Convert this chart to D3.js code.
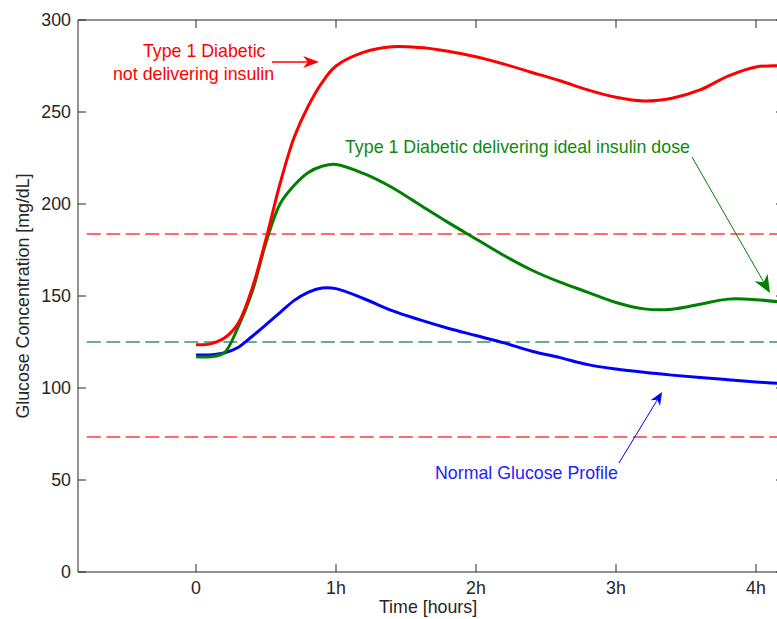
<!DOCTYPE html>
<html>
<head>
<meta charset="utf-8">
<script src="https://cdn.jsdelivr.net/npm/d3@7"></script>
<style>
  html, body { margin: 0; padding: 0; background: #fff; }
  svg { display: block; }
  text { font-family: "Liberation Sans", Arial, sans-serif; }
</style>
</head>
<body>
<div id="chart"></div>
<script>
// ---------------- data ----------------
const timeHours = [0, 0.1, 0.2, 0.3, 0.4, 0.5, 0.6, 0.7, 0.8, 0.9, 1.0, 1.2, 1.4, 1.6, 1.8, 2.0, 2.2, 2.4, 2.6, 2.8, 3.0, 3.2, 3.4, 3.6, 3.8, 4.0, 4.2];
const noInsulin = [123.5, 124, 127, 135, 154, 181, 211, 236, 253, 266, 275, 282.5, 285.5, 285, 283, 280, 276, 271.5, 267, 262, 258, 256, 257.5, 262, 269.5, 274.5, 275];
const idealInsulin = [117, 117, 119, 133, 152, 179, 200, 210, 217, 220.5, 221.5, 216.5, 209, 199.5, 190, 181, 172, 164, 157.5, 152, 146.5, 143, 142.8, 145.5, 148.3, 148, 146.5];
const normalProfile = [118, 118, 119, 122, 128, 134.5, 141, 147.5, 152, 154.3, 154, 148.5, 142, 137, 132.5, 128.5, 124.5, 120, 116.5, 112.7, 110.3, 108.5, 107, 105.7, 104.5, 103.3, 102.3];
const thresholds = [183.7, 125, 73.4];
const xTickValues = [0, 1, 2, 3, 4];
const xTickLabels = ["0", "1h", "2h", "3h", "4h"];
const yTickValues = [0, 50, 100, 150, 200, 250, 300];

// ---------------- layout ----------------
const W = 777, H = 619;
const svg = d3.select("#chart").append("svg").attr("width", W).attr("height", H);

const x = d3.scaleLinear().domain([-0.843, 4.2]).range([78, 784]);
const y = d3.scaleLinear().domain([0, 300]).range([572, 20]);

const axisColor = "#262626";
const fontSize = 17.8;

svg.append("clipPath").attr("id", "plotclip")
  .append("rect").attr("x", 78).attr("y", 20).attr("width", 706).attr("height", 552);

// threshold dashed lines
const thrColors = ["#ff3b3b", "#3f8f6c", "#ff3b3b"];
svg.append("g").attr("clip-path", "url(#plotclip)")
  .selectAll("line").data(thresholds).join("line")
  .attr("x1", x(-0.78)).attr("x2", x(4.2))
  .attr("y1", d => y(d)).attr("y2", d => y(d))
  .attr("stroke", (d, i) => thrColors[i])
  .attr("stroke-width", 1.5)
  .attr("stroke-dasharray", "14,5.5");

// curves
const line = d3.line()
  .x((d, i) => x(timeHours[i]))
  .y(d => y(d))
  .curve(d3.curveCatmullRom.alpha(0.5));

const series = [
  { values: normalProfile, color: "#0000ff" },
  { values: idealInsulin, color: "#008000" },
  { values: noInsulin, color: "#ff0000" }
];
svg.append("g").attr("clip-path", "url(#plotclip)")
  .selectAll("path").data(series).join("path")
  .attr("d", d => line(d.values))
  .attr("fill", "none")
  .attr("stroke", d => d.color)
  .attr("stroke-width", 3)
  .attr("stroke-linejoin", "round");

// axes (MATLAB style, ticks inward, box)
const tickLen = 8;
const gAx = svg.append("g");
gAx.append("line").attr("x1", 78).attr("x2", 784).attr("y1", 572).attr("y2", 572).attr("stroke", axisColor);
gAx.append("line").attr("x1", 78).attr("x2", 784).attr("y1", 20).attr("y2", 20).attr("stroke", axisColor);
gAx.append("line").attr("x1", 78).attr("x2", 78).attr("y1", 20).attr("y2", 572).attr("stroke", axisColor);
gAx.append("line").attr("x1", 784).attr("x2", 784).attr("y1", 20).attr("y2", 572).attr("stroke", axisColor);

xTickValues.forEach((v, i) => {
  gAx.append("line").attr("x1", x(v)).attr("x2", x(v)).attr("y1", 572).attr("y2", 572 - tickLen).attr("stroke", axisColor);
  gAx.append("line").attr("x1", x(v)).attr("x2", x(v)).attr("y1", 20).attr("y2", 20 + tickLen).attr("stroke", axisColor);
  gAx.append("text").attr("x", x(v)).attr("y", 594)
    .attr("text-anchor", "middle").attr("font-size", fontSize).attr("fill", axisColor)
    .text(xTickLabels[i]);
});
yTickValues.forEach(v => {
  gAx.append("line").attr("x1", 78).attr("x2", 78 + tickLen).attr("y1", y(v)).attr("y2", y(v)).attr("stroke", axisColor);
  gAx.append("line").attr("x1", 784).attr("x2", 784 - tickLen).attr("y1", y(v)).attr("y2", y(v)).attr("stroke", axisColor);
  gAx.append("text").attr("x", 71).attr("y", y(v)).attr("dy", "0.35em")
    .attr("text-anchor", "end").attr("font-size", fontSize).attr("fill", axisColor)
    .text(v);
});

svg.append("text").attr("x", 428).attr("y", 613)
  .attr("text-anchor", "middle").attr("font-size", fontSize).attr("fill", axisColor)
  .text("Time [hours]");
svg.append("text")
  .attr("transform", "translate(29," + 296 + ") rotate(-90)")
  .attr("text-anchor", "middle").attr("font-size", fontSize).attr("fill", axisColor)
  .text("Glucose Concentration [mg/dL]");

// ---------------- annotations ----------------
function arrow(x1, y1, x2, y2, color, headLen, headW, lw) {
  const g = svg.append("g");
  const ang = Math.atan2(y2 - y1, x2 - x1);
  const ux = Math.cos(ang), uy = Math.sin(ang);
  const px = -uy, py = ux;
  const bx = x2 - ux * headLen, by = y2 - uy * headLen;
  const nx = x2 - ux * headLen * 0.7, ny = y2 - uy * headLen * 0.7;
  g.append("line").attr("x1", x1).attr("y1", y1).attr("x2", nx).attr("y2", ny)
    .attr("stroke", color).attr("stroke-width", lw);
  const pts = [
    [x2, y2],
    [bx + px * headW / 2, by + py * headW / 2],
    [nx, ny],
    [bx - px * headW / 2, by - py * headW / 2]
  ];
  g.append("path").attr("d", "M" + pts.map(p => p.join(",")).join("L") + "Z").attr("fill", color);
}

svg.append("text").attr("x", x(-0.379)).attr("y", y(279.9))
  .attr("font-size", fontSize).attr("fill", "#ff0000").text("Type 1 Diabetic");
svg.append("text").attr("x", x(-0.593)).attr("y", y(267.4))
  .attr("font-size", fontSize).attr("fill", "#ff0000").text("not delivering insulin");
arrow(x(0.543), y(277.2), x(0.879), y(277.2), "#ff0000", 16, 12, 1.5);

svg.append("text").attr("x", x(1.064)).attr("y", y(227.7))
  .attr("font-size", fontSize).attr("fill", "#118811").text("Type 1 Diabetic delivering ideal insulin dose");
arrow(x(3.543), y(225.5), x(4.1), y(151.6), "#008000", 18, 15, 1);

svg.append("text").attr("x", x(1.707)).attr("y", y(50.3))
  .attr("font-size", fontSize).attr("fill", "#2222ff").text("Normal Glucose Profile");
arrow(x(3.021), y(59.2), x(3.329), y(97.8), "#0000ff", 13, 11, 1);
</script>
</body>
</html>
